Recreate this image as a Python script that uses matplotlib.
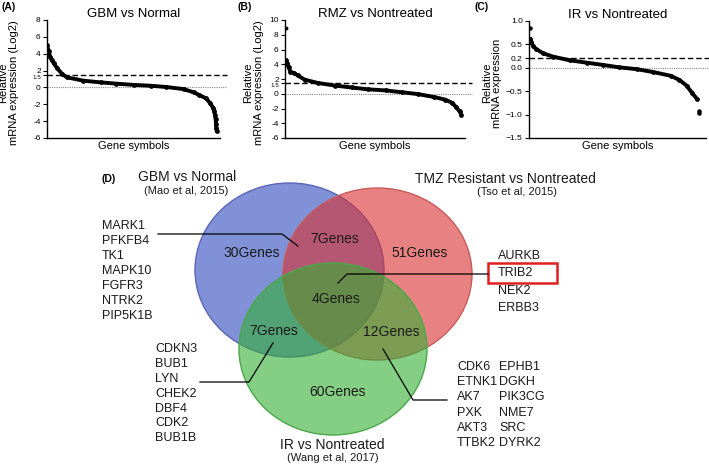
import matplotlib.pyplot as plt
from matplotlib.patches import Ellipse, Rectangle

plt.rcParams['font.family'] = ['Liberation Sans', 'DejaVu Sans']

# --- Datos: curvas ordenadas (rango en % de genes, valor) ---
gbm_rank = [0, 1.0, 1.9, 2.9, 3.8, 5.8, 8.7, 11.5, 21, 31, 40, 50, 60, 69, 79,
            85, 88, 92, 94, 96, 96.7, 97.1, 97.5, 97.7, 97.9, 98.1]
gbm_vals = [5.0, 4.3, 3.6, 3.2, 2.9, 2.3, 1.6, 1.2, 0.8, 0.6, 0.45, 0.3, 0.2, 0.05, -0.2,
            -0.6, -0.9, -1.3, -1.8, -2.4, -2.8, -3.3, -3.8, -4.3, -4.8, -5.2]

rmz_rank = [0.5, 1.0, 2.0, 3.0, 5.0, 7.0, 11, 18.5, 28, 37, 46, 56, 65, 74,
            83, 89, 93, 95, 97, 98]
rmz_vals = [4.6, 4.2, 3.6, 3.0, 2.8, 2.5, 1.9, 1.45, 1.1, 0.85, 0.6, 0.45, 0.2, -0.05,
            -0.45, -0.8, -1.25, -1.8, -2.4, -2.85]
rmz_out_rank = [0.8]
rmz_out_vals = [8.9]

ir_rank = [0.8, 1.3, 2.3, 4, 8, 13.5, 23, 32.5, 42, 51, 61, 70, 80, 85, 89, 92, 95]
ir_vals = [0.62, 0.55, 0.47, 0.40, 0.31, 0.24, 0.16, 0.11, 0.06, 0.01, -0.03, -0.09,
           -0.17, -0.26, -0.38, -0.53, -0.67]
ir_out_rank = [0.4, 96, 96]
ir_out_vals = [0.86, -0.93, -0.97]

# --- Datos: diagrama de Venn ---
venn_counts = [30, 7, 51, 4, 7, 12, 60]
set_titles = ["GBM vs Normal", "TMZ Resistant vs Nontreated", "IR vs Nontreated"]
set_refs = ["(Mao et al, 2015)", "(Tso et al, 2015)", "(Wang et al, 2017)"]
genes_gbm_tmz = ["MARK1", "PFKFB4", "TK1", "MAPK10", "FGFR3", "NTRK2", "PIP5K1B"]
genes_all = ["AURKB", "TRIB2", "NEK2", "ERBB3"]
genes_gbm_ir = ["CDKN3", "BUB1", "LYN", "CHEK2", "DBF4", "CDK2", "BUB1B"]
genes_tmz_ir_1 = ["CDK6", "ETNK1", "AK7", "PXK", "AKT3", "TTBK2"]
genes_tmz_ir_2 = ["EPHB1", "DGKH", "PIK3CG", "NME7", "SRC", "DYRK2"]

W, H = 709, 467
fig = plt.figure(figsize=(W / 100, H / 100), dpi=100)

# --- Lienzo en píxeles para el Venn ---
cv = fig.add_axes([0, 0, 1, 1])
cv.set_xlim(0, W)
cv.set_ylim(H, 0)
cv.axis('off')


def px_axes(left, top, right, bottom):
    return fig.add_axes([left / W, 1 - bottom / H, (right - left) / W, (bottom - top) / H])


def sorted_panel(ax, rank, vals, thr, ylim, yticks, ylabels, title, ylabel, label_x):
    ax.axhline(0, color='#888888', lw=0.8, ls=(0, (1, 1)), xmax=1.04, clip_on=False)
    ax.axhline(thr, color='black', lw=1.0, ls=(0, (4, 2)), xmax=1.04, clip_on=False)
    ax.plot(rank, vals, '-o', color='black', lw=2.8, ms=2.4, solid_capstyle='round')
    ax.set_xlim(0, 100)
    ax.set_ylim(*ylim)
    ax.set_yticks(yticks)
    ax.set_yticklabels(ylabels)
    ax.set_xticks([])
    for s in ['top', 'right']:
        ax.spines[s].set_visible(False)
    for s in ['left', 'bottom']:
        ax.spines[s].set_linewidth(1.0)
    ax.tick_params(axis='y', direction='out', length=3, width=0.8, pad=1.5, labelsize=6)
    ax.set_title(title, fontsize=9.5, pad=1)
    ax.set_xlabel('Gene symbols', fontsize=8, labelpad=2)
    ax.set_ylabel(ylabel, fontsize=8, linespacing=1.1)
    ax.yaxis.set_label_coords(label_x, 0.47)
    ax.patch.set_alpha(0)


def small_tick(ax, idx):
    # la etiqueta 1.5 va más pequeña y justo debajo de su línea
    lab = ax.get_yticklabels()[idx]
    lab.set_fontsize(4.5)
    lab.set_verticalalignment('top')


axA = px_axes(47, 20, 220, 138)
sorted_panel(axA, gbm_rank, gbm_vals, 1.5, (-6, 8), [8, 6, 4, 2, 1.5, 0, -2, -4, -6],
             ['8', '6', '4', '2', '1.5', '0', '-2', '-4', '-6'],
             'GBM vs Normal', 'Relative\nmRNA expression (Log2)', -0.16)
small_tick(axA, 4)

axB = px_axes(285, 20, 465, 138)
sorted_panel(axB, rmz_rank, rmz_vals, 1.5, (-6, 10), [10, 8, 6, 4, 2, 1.5, 0, -2, -4, -6],
             ['10', '8', '6', '4', '2', '1.5', '0', '-2', '-4', '-6'],
             'RMZ vs Nontreated', 'Relative\nmRNA expression (Log2)', -0.115)
small_tick(axB, 5)
axB.plot(rmz_out_rank, rmz_out_vals, 'o', color='black', ms=1.8)

axC = px_axes(529, 21, 706, 138)
sorted_panel(axC, ir_rank, ir_vals, 0.2, (-1.5, 1.0), [1.0, 0.5, 0.2, 0.0, -0.5, -1.0, -1.5],
             ['1.0', '0.5', '0.2', '0.0', '\u22120.5', '\u22121.0', '\u22121.5'],
             'IR vs Nontreated', 'Relative\nmRNA expression', -0.15)
axC.plot(ir_out_rank, ir_out_vals, 'o', color='black', ms=2.2)

for lab, x in [('(A)', 2), ('(B)', 237), ('(C)', 475)]:
    fig.text(x / W, 1 - 7 / H, lab, fontsize=7.5, fontweight='bold', va='center', ha='left')

# --- Venn ---
circles = [
    ((289.5, 270), 189, 174, (74 / 255, 98 / 255, 198 / 255, 0.7), '#5a66b8'),
    ((377.5, 274), 189, 172, (217 / 255, 47 / 255, 47 / 255, 0.6), '#c85a5a'),
    ((333, 349), 188, 172, (50 / 255, 175 / 255, 50 / 255, 0.6), '#4aa84a'),
]
for c, w, h, fc, ec in circles:
    cv.add_patch(Ellipse(c, w, h, facecolor=fc, edgecolor=ec, lw=1.0))

count_pos = [(252, 253), (335, 239), (420, 253), (336, 299), (274, 331), (391, 332), (338, 392)]
for n, (x, y) in zip(venn_counts, count_pos):
    cv.text(x, y, f'{n}Genes', fontsize=10, ha='center', va='center', color='#1a1a1a')

cv.text(102, 179, '(D)', fontsize=7.5, fontweight='bold', ha='left', va='center')
title_pos = [(187, 177, 186, 191), (505, 179, 517, 192), (332, 445, 333, 458)]
for t, r, (tx, ty, rx, ry) in zip(set_titles, set_refs, title_pos):
    cv.text(tx, ty, t, fontsize=10, ha='center', va='center', color='#1a1a1a')
    cv.text(rx, ry, r, fontsize=8, ha='center', va='center', color='#1a1a1a')


def gene_list(x, y0, step, genes):
    for i, g in enumerate(genes):
        cv.text(x, y0 + i * step, g, fontsize=9, ha='left', va='center', color='#1a1a1a')


gene_list(102, 226, 15, genes_gbm_tmz)
gene_list(498, 256, 17.3, genes_all)
gene_list(155, 349, 14.9, genes_gbm_ir)
gene_list(457, 367, 15.2, genes_tmz_ir_1)
gene_list(499, 367, 15.2, genes_tmz_ir_2)

cv.add_patch(Rectangle((488, 263), 69, 20, fill=False, edgecolor='#e02020', lw=1.8))

leaders = [
    ([158, 282, 298], [234, 234, 246]),
    ([338, 347, 488], [283, 274, 274]),
    ([200, 249, 273], [382, 382, 343]),
    ([383, 413, 447], [349, 400, 400]),
]
for xs, ys in leaders:
    cv.plot(xs, ys, color='black', lw=0.9)

fig.savefig('out.png', dpi=100)
